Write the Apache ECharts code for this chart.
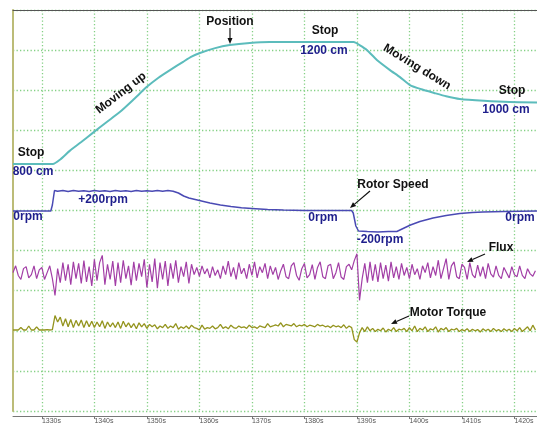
<!DOCTYPE html>
<html>
<head>
<meta charset="utf-8">
<script src="https://cdn.jsdelivr.net/npm/echarts@6/dist/echarts.min.js"></script>
<style>
  html, body { margin: 0; padding: 0; background: #fff; }
  #chart { width: 537px; height: 428px; }
</style>
</head>
<body>
<div id="chart"></div>
<script>
// time axis (s)
const timeMin = 1324.5;
const timeMax = 1424.3;
const timeTicks = [1330, 1340, 1350, 1360, 1370, 1380, 1390, 1400, 1410, 1420];

// position trace [t (s), cm]
const positionTrace = [
  [1324.5, 800], [1332.1, 800], [1333.5, 815], [1335.3, 843], [1337.5, 872], [1339.7, 902],
  [1342.3, 937], [1344.9, 971], [1347.5, 1012], [1350, 1053], [1352.2, 1083], [1354.4, 1108],
  [1356.9, 1135], [1358.5, 1152], [1360.1, 1164], [1363, 1180], [1365.8, 1190], [1369.6, 1197],
  [1373.4, 1200], [1389.4, 1200], [1390.5, 1190], [1391.9, 1174], [1393.8, 1141], [1396.3, 1108],
  [1398.2, 1085], [1400.1, 1059], [1402.3, 1045], [1404.7, 1033], [1407, 1022], [1409.6, 1013],
  [1414.2, 1007], [1419.1, 1003], [1424.3, 1002]
];

// rotor speed trace [t (s), rpm]
const speedTrace = [
  [1324.5, 0], [1331.7, 0], [1332.0, 60], [1332.4, 205], [1333, 198], [1334, 205], [1335, 195],
  [1336, 204], [1337, 197], [1338, 203], [1339, 196], [1340, 204], [1341, 198], [1342, 203],
  [1343, 196], [1344, 205], [1345, 198], [1346, 202], [1347, 196], [1348, 204], [1349, 198],
  [1350, 203], [1351, 197], [1352, 205], [1353, 198], [1354, 204], [1355, 198], [1356, 180],
  [1357, 150], [1358, 130], [1360, 105], [1362, 80], [1364, 60], [1366, 45], [1368, 32],
  [1370, 25], [1373, 15], [1376, 10], [1380, 6], [1385, 4], [1389, 4], [1389.3, -20],
  [1389.8, -150], [1390.3, -200], [1392, -205], [1394, -210], [1396, -205], [1397.6, -205],
  [1399, -170], [1400.2, -140], [1402, -105], [1404.5, -70], [1407, -45], [1409.6, -25],
  [1412, -15], [1414, -10], [1418, -5], [1424.3, 0]
];

// flux and motor torque, scope samples every 0.5 s from 1324.5 s (screen divisions)
const sampleStart = 1324.5;
const sampleStep = 0.5;
const fluxSamples = [
  3.45, 3.62, 3.38, 3.28, 3.55, 3.60, 3.32, 3.40, 3.62, 3.30,
  3.52, 3.58, 3.28, 3.45, 3.62, 3.30, 2.88, 3.55, 3.20, 3.70,
  3.25, 3.66, 3.15, 3.72, 3.30, 3.68, 3.18, 3.75, 3.22, 3.60,
  3.12, 3.78, 3.25, 3.70, 3.88, 3.15, 3.66, 3.28, 3.74, 3.12,
  3.70, 3.20, 3.76, 3.30, 3.62, 3.14, 3.72, 3.25, 3.68, 3.35,
  3.78, 3.08, 3.66, 3.22, 3.80, 3.06, 3.70, 3.28, 3.74, 3.12,
  3.68, 3.30, 3.76, 3.20, 3.60, 3.35, 3.72, 3.18, 3.66, 3.40,
  3.58, 3.36, 3.62, 3.42, 3.55, 3.32, 3.60, 3.38, 3.52, 3.30,
  3.62, 3.40, 3.74, 3.35, 3.58, 3.28, 3.70, 3.42, 3.56, 3.30,
  3.66, 3.38, 3.72, 3.32, 3.60, 3.45, 3.68, 3.30, 3.62, 3.40,
  3.58, 3.28, 3.50, 3.66, 3.35, 3.30, 3.62, 3.70, 3.38, 3.26,
  3.55, 3.68, 3.32, 3.40, 3.65, 3.28, 3.58, 3.72, 3.35, 3.30,
  3.62, 3.66, 3.30, 3.45, 3.70, 3.34, 3.28, 3.60, 3.66, 3.52,
  3.75, 3.92, 2.76, 3.30, 3.68, 3.20, 3.72, 3.25, 3.66, 3.22,
  3.70, 3.30, 3.64, 3.24, 3.72, 3.32, 3.60, 3.28, 3.68, 3.38,
  3.58, 3.30, 3.66, 3.40, 3.55, 3.28, 3.62, 3.45, 3.70, 3.32,
  3.60, 3.38, 3.76, 3.30, 3.55, 3.80, 3.28, 3.62, 3.72, 3.35,
  3.30, 3.66, 3.58, 3.28, 3.70, 3.40, 3.32, 3.64, 3.36, 3.60,
  3.30, 3.68, 3.42, 3.34, 3.62, 3.38, 3.30, 3.58, 3.45, 3.32,
  3.60, 3.40, 3.35, 3.62, 3.38, 3.30, 3.55, 3.42, 3.36, 3.50
];
const torqueSamples = [
  2.02, 2.02, 2.02, 2.08, 2.02, 2.02, 2.12, 2.02, 2.02, 2.10,
  2.02, 2.02, 2.02, 2.03, 2.02, 2.03, 2.38, 2.22, 2.34, 2.12,
  2.30, 2.10, 2.28, 2.08, 2.26, 2.12, 2.27, 2.08, 2.25, 2.10,
  2.24, 2.08, 2.22, 2.10, 2.25, 2.06, 2.22, 2.10, 2.20, 2.08,
  2.22, 2.06, 2.24, 2.10, 2.20, 2.08, 2.18, 2.05, 2.20, 2.10,
  2.18, 2.06, 2.16, 2.10, 2.15, 2.05, 2.12, 2.08, 2.16, 2.06,
  2.12, 2.08, 2.18, 2.04, 2.10, 2.06, 2.12, 2.05, 2.14, 2.08,
  2.06, 2.02, 2.14, 2.04, 2.08, 2.06, 2.12, 2.05, 2.08, 2.16,
  2.06, 2.10, 2.05, 2.14, 2.08, 2.06, 2.12, 2.08, 2.10, 2.06,
  2.14, 2.08, 2.10, 2.06, 2.12, 2.10, 2.08, 2.18, 2.10, 2.12,
  2.15, 2.12, 2.20, 2.10, 2.16, 2.14, 2.12, 2.18, 2.10, 2.14,
  2.12, 2.16, 2.10, 2.14, 2.12, 2.10, 2.16, 2.12, 2.14, 2.10,
  2.12, 2.08, 2.14, 2.10, 2.12, 2.08, 2.15, 2.06, 2.12, 2.08,
  1.78, 1.72, 1.95, 2.08, 1.98, 2.10, 2.00, 2.06, 1.98, 2.04,
  2.00, 2.07, 1.97, 2.04, 2.00, 2.08, 1.98, 2.04, 2.02, 2.06,
  1.98, 2.08, 2.00, 2.12, 1.98, 2.06, 2.02, 2.10, 1.98, 2.05,
  2.02, 2.10, 1.97, 2.06, 2.02, 2.08, 1.98, 2.04, 2.02, 2.06,
  1.98, 2.03, 2.00, 2.05, 1.98, 2.04, 2.00, 2.03, 1.97, 2.05,
  2.00, 2.04, 1.98, 2.06, 2.00, 2.03, 1.98, 2.05, 2.00, 2.04,
  1.98, 2.06, 2.00, 2.08, 1.98, 2.04, 2.10, 2.00, 2.14, 2.02
];

const FONT = '"Liberation Sans", Arial, sans-serif';
const NAVY = '#1e1e8c';
const gridLine = { show: true, lineStyle: { color: '#84d084', type: [1.3, 2.2], width: 1.3 } };

const toSeries = (vals) => vals.map((v, i) => [sampleStart + i * sampleStep, v]);

// annotation texts (pixel placement)
const notes = [
  { text: 'Position', x: 230, y: 22 },
  { text: 'Stop', x: 325, y: 31 },
  { text: 'Moving up', x: 121, y: 93, rotation: 0.66 },
  { text: 'Moving down', x: 417, y: 67, rotation: -0.55 },
  { text: 'Stop', x: 512, y: 91 },
  { text: 'Stop', x: 31, y: 153 },
  { text: 'Rotor Speed', x: 393, y: 185 },
  { text: 'Flux', x: 501, y: 248 },
  { text: 'Motor Torque', x: 448, y: 313 },
  { text: '800 cm', x: 33, y: 172, color: NAVY },
  { text: '1200 cm', x: 324, y: 51, color: NAVY },
  { text: '1000 cm', x: 506, y: 110, color: NAVY },
  { text: '+200rpm', x: 103, y: 200, color: NAVY },
  { text: '0rpm', x: 28, y: 217, color: NAVY },
  { text: '0rpm', x: 323, y: 218, color: NAVY },
  { text: '-200rpm', x: 380, y: 240, color: NAVY },
  { text: '0rpm', x: 520, y: 218, color: NAVY }
];
const arrows = [
  [230, 28, 230, 44],
  [370, 191, 350, 208],
  [485, 254, 467, 262],
  [409, 316, 391, 324]
];

function arrowGraphic(a) {
  const [x1, y1, x2, y2] = a;
  const ang = Math.atan2(y2 - y1, x2 - x1);
  const L = 6, W = 2.5;
  const bx = x2 - L * Math.cos(ang), by = y2 - L * Math.sin(ang);
  const px = -Math.sin(ang) * W, py = Math.cos(ang) * W;
  return [
    { type: 'line', shape: { x1, y1, x2: bx, y2: by }, style: { stroke: '#111', lineWidth: 1.2 }, z: 100 },
    { type: 'polygon', shape: { points: [[x2, y2], [bx + px, by + py], [bx - px, by - py]] }, style: { fill: '#111' }, z: 100 }
  ];
}

const graphics = notes.map(n => ({
  type: 'text',
  x: n.x, y: n.y,
  rotation: n.rotation || 0,
  z: 100,
  style: {
    text: n.text,
    align: 'center',
    verticalAlign: 'middle',
    font: 'bold 12px ' + FONT,
    fill: n.color || '#111'
  }
})).concat(...arrows.map(arrowGraphic));

const chart = echarts.init(document.getElementById('chart'), null, { renderer: 'canvas' });

const option = {
  animation: false,
  backgroundColor: '#fff',
  grid: { left: 13, right: 0, top: 10, bottom: 17, containLabel: false },
  xAxis: [
    {
      type: 'value',
      min: timeMin,
      max: timeMax,
      position: 'bottom',
      offset: 5,
      axisLine: { show: true, onZero: false, lineStyle: { color: '#777', width: 1 } },
      axisTick: { show: true, customValues: timeTicks, length: 3, lineStyle: { color: '#777' } },
      axisLabel: {
        customValues: timeTicks,
        formatter: v => v + 's',
        fontSize: 7,
        fontFamily: FONT,
        color: '#555',
        align: 'left',
        margin: 2
      },
      splitLine: gridLine
    },
    {
      type: 'value',
      min: timeMin,
      max: timeMax,
      position: 'top',
      axisLine: { show: true, onZero: false, lineStyle: { color: '#555', width: 1 } },
      axisTick: { show: false },
      axisLabel: { show: false },
      splitLine: { show: false }
    }
  ],
  yAxis: [
    {
      type: 'value',
      min: 0,
      max: 10,
      interval: 1,
      axisLine: { show: true, onZero: false, lineStyle: { color: '#bcbc78', width: 2 } },
      axisTick: { show: false },
      axisLabel: { show: false },
      splitLine: gridLine
    },
    { type: 'value', min: -10, max: 1305, show: false, splitLine: { show: false } },
    { type: 'value', min: -2000, max: 2010, show: false, splitLine: { show: false } }
  ],
  series: [
    {
      name: 'Position',
      type: 'line',
      yAxisIndex: 1,
      data: positionTrace,
      symbol: 'none',
      smooth: 0.2,
      lineStyle: { color: '#5cbcbc', width: 2 }
    },
    {
      name: 'Rotor Speed',
      type: 'line',
      yAxisIndex: 2,
      data: speedTrace,
      symbol: 'none',
      lineStyle: { color: '#4a4ab4', width: 1.5 }
    },
    {
      name: 'Flux',
      type: 'line',
      yAxisIndex: 0,
      data: toSeries(fluxSamples),
      symbol: 'none',
      lineStyle: { color: '#a23ea6', width: 1.2 }
    },
    {
      name: 'Motor Torque',
      type: 'line',
      yAxisIndex: 0,
      data: toSeries(torqueSamples),
      symbol: 'none',
      lineStyle: { color: '#94941e', width: 1.3 }
    }
  ],
  graphic: graphics
};

chart.setOption(option);
</script>
</body>
</html>
